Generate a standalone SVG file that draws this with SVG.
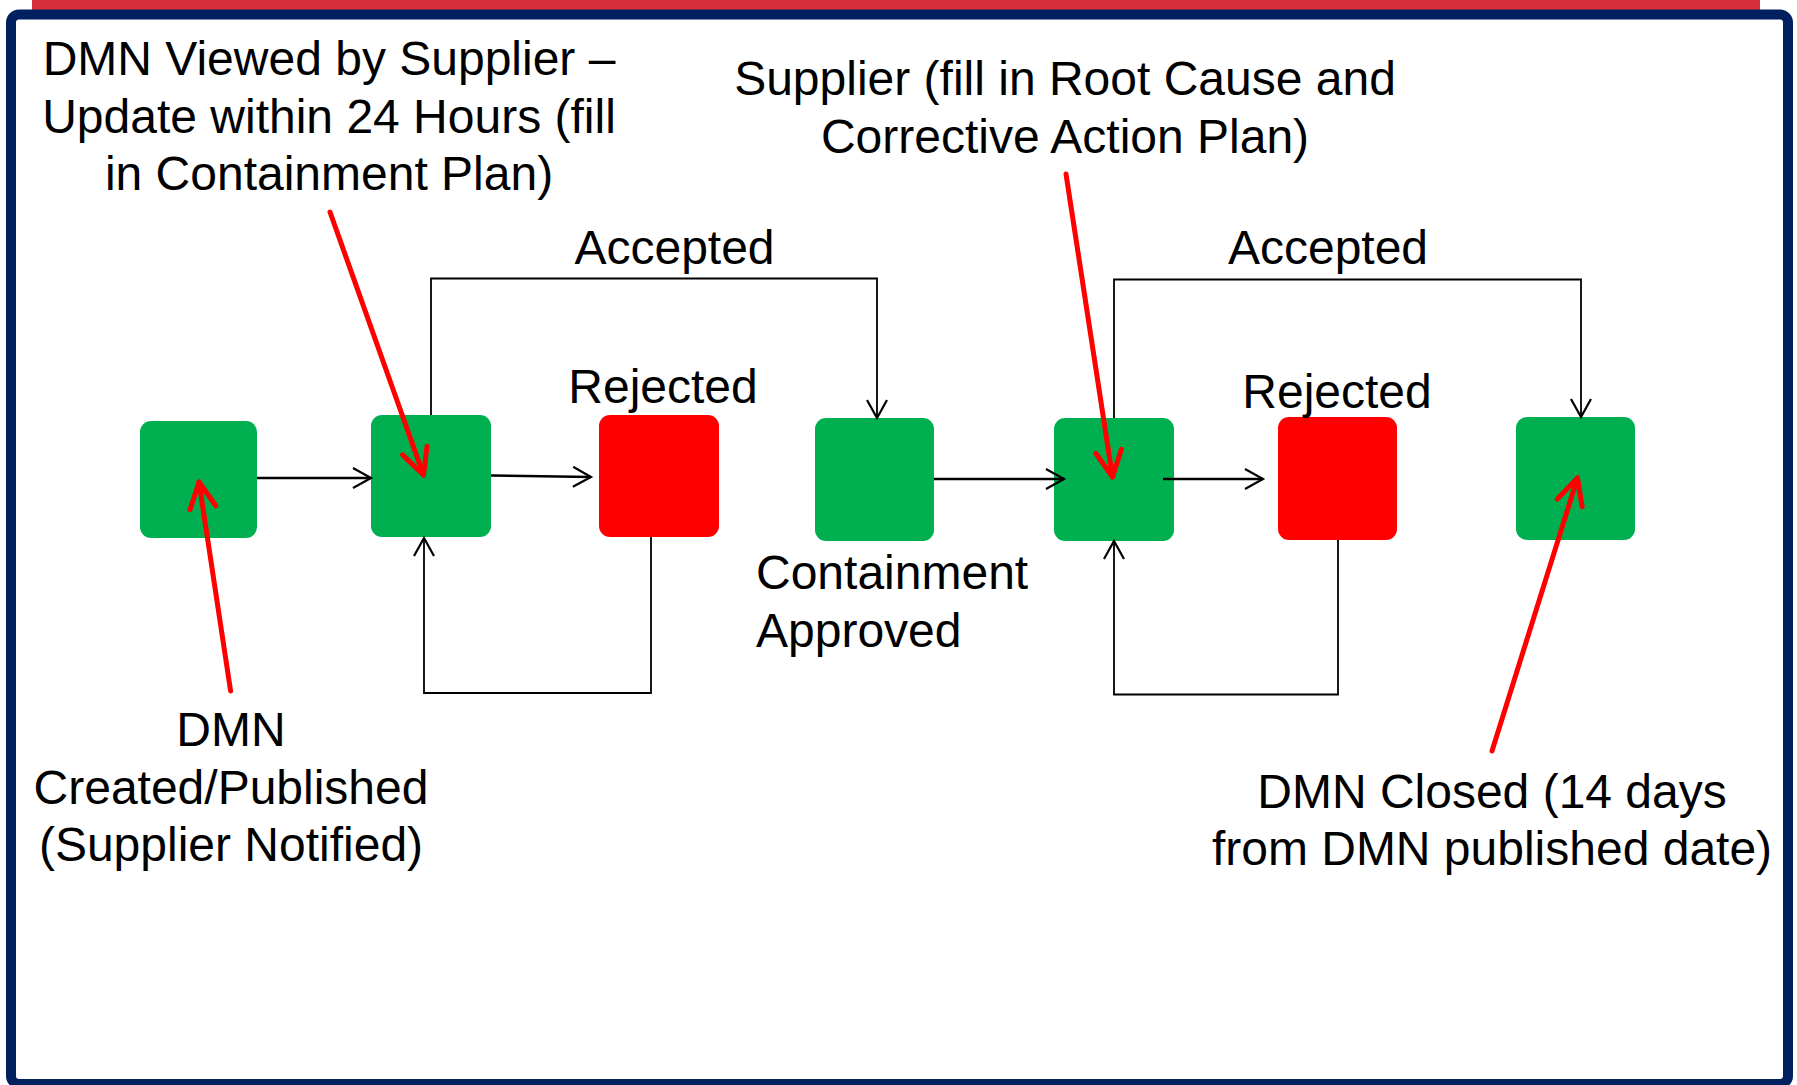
<svg xmlns="http://www.w3.org/2000/svg" width="1797" height="1085" viewBox="0 0 1797 1085">
<defs>
<style>
.t{font-family:"Liberation Sans",Arial,sans-serif;font-size:48px;fill:#000}
.c{text-anchor:middle}
.g{fill:#00B050}
.r{fill:#FF0000}
.thick{stroke:#000;stroke-width:2.5;fill:none}
.thin{stroke:#000;stroke-width:1.8;fill:none}
.red{stroke:#FF0000;stroke-width:5;fill:none;stroke-linecap:round}
</style>
<marker id="ah" markerUnits="userSpaceOnUse" markerWidth="24" markerHeight="26" refX="19" refY="11" orient="auto">
<path d="M1,1 L19,11 L1,21" fill="none" stroke="#000" stroke-width="2.2"/>
</marker>
<marker id="rh" markerUnits="userSpaceOnUse" markerWidth="36" markerHeight="36" refX="29" refY="16" orient="auto">
<path d="M3,3 L29,16 L3,29" fill="none" stroke="#FF0000" stroke-width="5" stroke-linecap="round" stroke-linejoin="round"/>
</marker>
</defs>
<rect x="0" y="0" width="1797" height="1085" fill="#fff"/>
<rect x="32" y="0" width="1728" height="10" fill="#D8303A"/>
<rect x="11" y="14.5" width="1777" height="1069.5" rx="8" fill="#fff" stroke="#002060" stroke-width="10"/>

<g id="box1"><rect class="g" x="140" y="421" width="117" height="117" rx="11"/></g>
<g id="box2"><rect class="g" x="371" y="415" width="120" height="122" rx="11"/></g>
<g id="box3"><rect class="r" x="599" y="415" width="120" height="122" rx="11"/></g>
<g id="box4"><rect class="g" x="815" y="418" width="119" height="123" rx="11"/></g>
<g id="box5"><rect class="g" x="1054" y="418" width="120" height="123" rx="11"/></g>
<g id="box6"><rect class="r" x="1278" y="417" width="119" height="123" rx="11"/></g>
<g id="box7"><rect class="g" x="1516" y="417" width="119" height="123" rx="11"/></g>

<g id="connectors">
<line class="thick" x1="257" y1="478" x2="371" y2="478" marker-end="url(#ah)"/>
<line class="thick" x1="491" y1="475.5" x2="591" y2="477" marker-end="url(#ah)"/>
<line class="thick" x1="934" y1="479" x2="1064" y2="479" marker-end="url(#ah)"/>
<line class="thick" x1="1163" y1="479" x2="1263" y2="479" marker-end="url(#ah)"/>
<polyline class="thin" points="651,537 651,693 424,693 424,538" marker-end="url(#ah)"/>
<polyline class="thin" points="1338,540 1338,694.5 1114,694.5 1114,541" marker-end="url(#ah)"/>
<polyline class="thin" points="431,415 431,278.5 877,278.5 877,418" marker-end="url(#ah)"/>
<polyline class="thin" points="1114,418 1114,279.5 1581,279.5 1581,417" marker-end="url(#ah)"/>
<line class="red" x1="230.6" y1="691" x2="199" y2="482" marker-end="url(#rh)"/>
<line class="red" x1="330" y1="212" x2="423.5" y2="475" marker-end="url(#rh)"/>
<line class="red" x1="1066" y1="174" x2="1112.5" y2="477" marker-end="url(#rh)"/>
<line class="red" x1="1492" y1="751" x2="1577.5" y2="478" marker-end="url(#rh)"/>
</g>

<g id="label-viewed">
<text class="t c" x="329" y="75">DMN Viewed by Supplier –</text>
<text class="t c" x="329" y="132.5">Update within 24 Hours (fill</text>
<text class="t c" x="329" y="190">in Containment Plan)</text>
</g>
<g id="label-supplier">
<text class="t c" x="1065" y="95">Supplier (fill in Root Cause and</text>
<text class="t c" x="1065" y="152.5">Corrective Action Plan)</text>
</g>
<g id="label-accepted1"><text class="t c" x="674.5" y="263.5">Accepted</text></g>
<g id="label-accepted2"><text class="t c" x="1328" y="263.5">Accepted</text></g>
<g id="label-rejected1"><text class="t c" x="663" y="403">Rejected</text></g>
<g id="label-rejected2"><text class="t c" x="1337" y="408">Rejected</text></g>
<g id="label-containment">
<text class="t" x="756" y="589">Containment</text>
<text class="t" x="756" y="646.5">Approved</text>
</g>
<g id="label-created">
<text class="t c" x="231" y="746">DMN</text>
<text class="t c" x="231" y="803.5">Created/Published</text>
<text class="t c" x="231" y="861">(Supplier Notified)</text>
</g>
<g id="label-closed">
<text class="t c" x="1492" y="808">DMN Closed (14 days</text>
<text class="t c" x="1492" y="865">from DMN published date)</text>
</g>
</svg>
